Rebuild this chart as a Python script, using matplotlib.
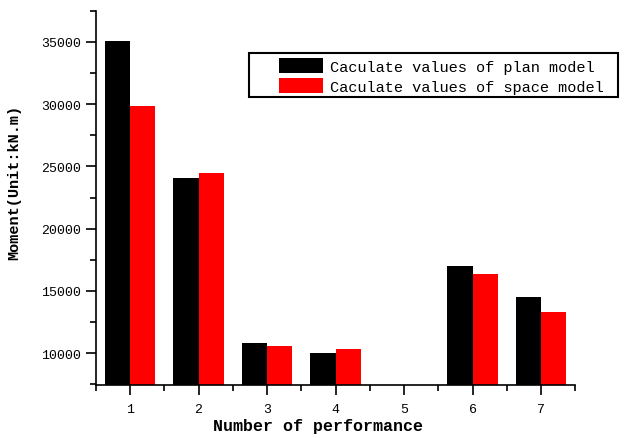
import numpy as np
import matplotlib.pyplot as plt
from matplotlib.ticker import MultipleLocator
from matplotlib.patches import Rectangle

# Data
cases = [1, 2, 3, 4, 5, 6, 7]
plan_model = [35050, 24110, 10780, 9980, 0, 17020, 14540]
space_model = [29840, 24440, 10590, 10320, 0, 16350, 13280]
yticks = [10000, 15000, 20000, 25000, 30000, 35000]

plt.rcParams['font.family'] = ['Liberation Mono', 'DejaVu Sans Mono']

fig = plt.figure(figsize=(6.26, 4.39), dpi=100)
ax = fig.add_axes([0.153, 0.121, 0.766, 0.852])

x = np.array(cases)
w = 0.37
ax.bar(x - w / 2, plan_model, w, color='black', label='Caculate values of plan model')
ax.bar(x + w / 2, space_model, w, color='#ff0000', label='Caculate values of space model')

ax.set_xlim(0.5, 7.5)
ax.set_ylim(7450, 37500)
ax.set_xticks(cases)
ax.set_xticks(np.arange(0.5, 8, 1), minor=True)
ax.yaxis.set_minor_locator(MultipleLocator(2500))
ax.set_yticks(yticks)
ax.set_yticklabels([str(v) for v in yticks])

for s in ['top', 'right']:
    ax.spines[s].set_visible(False)
for s in ['left', 'bottom']:
    ax.spines[s].set_linewidth(1.2)
ax.tick_params(which='major', direction='out', length=7, width=1.2, labelsize=9.5)
ax.tick_params(which='minor', direction='out', length=4, width=1.2)
ax.tick_params(axis='x', pad=6)

ax.set_xlabel('Number of performance', fontsize=12, fontweight='bold')
ax.xaxis.set_label_coords(0.463, -0.088)
ax.set_ylabel('Moment(Unit:kN.m)', fontsize=11, fontweight='bold')
ax.yaxis.set_label_coords(-0.155, 0.543)

# legend frame drawn separately so the handles can sit further in
W, H = 626, 439
fig.patches.append(Rectangle((249 / W, 1 - 98 / H), 369 / W, 44 / H,
                             transform=fig.transFigure, fill=False,
                             edgecolor='black', linewidth=1.5))
leg = fig.legend(loc='upper left', bbox_to_anchor=(276 / W, 1 - 56 / H),
                 fontsize=11, frameon=False,
                 handlelength=2.9, handleheight=1.1, handletextpad=0.45,
                 labelspacing=0.3, borderpad=0.2, borderaxespad=0)

fig.savefig('out.png', dpi=100)
